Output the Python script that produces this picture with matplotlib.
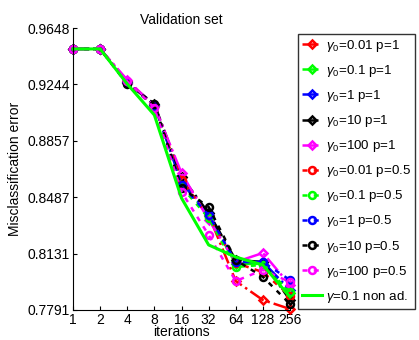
"""Validation set: misclassification error vs iterations for several gamma_0 / p settings."""

import matplotlib
matplotlib.use("Agg")
import matplotlib.pyplot as plt

plt.rcParams["font.family"] = ["Liberation Sans", "DejaVu Sans"]
plt.rcParams["mathtext.fontset"] = "custom"
plt.rcParams["mathtext.rm"] = "Liberation Sans"
plt.rcParams["mathtext.it"] = "Liberation Sans:italic"

# iterations (log2 axis)
iterations = [1, 2, 4, 8, 16, 32, 64, 128, 256]

# y ticks of the original figure (log spaced)
y_ticks = [0.7791, 0.8131, 0.8487, 0.8857, 0.9244, 0.9648]

# p = 1 runs (diamonds)
red_p1 = [0.9496, 0.9496, 0.9268, 0.9094, 0.8618, 0.8373, 0.7964, 0.7850, 0.7797]
green_p1 = [0.9496, 0.9496, 0.9261, 0.9101, 0.8585, 0.8367, 0.8068, 0.8068, 0.7892]
blue_p1 = [0.9496, 0.9496, 0.9261, 0.9101, 0.8578, 0.8386, 0.8080, 0.8080, 0.7910]
black_p1 = [0.9496, 0.9496, 0.9254, 0.9108, 0.8618, 0.8386, 0.8092, 0.8080, 0.7850]
magenta_p1 = [0.9496, 0.9496, 0.9276, 0.9094, 0.8644, 0.8342, 0.8080, 0.8135, 0.7940]

# p = 0.5 runs (circles)
red_p05 = [0.9496, 0.9496, 0.9261, 0.9088, 0.8598, 0.8360, 0.8074, 0.8018, 0.7875]
green_p05 = [0.9496, 0.9496, 0.9254, 0.9088, 0.8553, 0.8354, 0.8049, 0.8062, 0.7898]
blue_p05 = [0.9496, 0.9496, 0.9254, 0.9094, 0.8566, 0.8373, 0.8080, 0.8080, 0.7970]
black_p05 = [0.9496, 0.9496, 0.9247, 0.9108, 0.8547, 0.8424, 0.8092, 0.7989, 0.7827]
magenta_p05 = [0.9496, 0.9496, 0.9268, 0.9081, 0.8521, 0.8247, 0.7964, 0.8031, 0.7958]

# non adaptive step size
nonad = [0.9496, 0.9496, 0.9247, 0.9032, 0.8481, 0.8185, 0.8110, 0.8062, 0.7868]

gammas = ["0.01", "0.1", "1", "10", "100"]
colors = ["#ff0000", "#00ff00", "#0000ff", "#000000", "#ff00ff"]
p1_runs = [red_p1, green_p1, blue_p1, black_p1, magenta_p1]
p05_runs = [red_p05, green_p05, blue_p05, black_p05, magenta_p05]

fig = plt.figure(figsize=(4.19, 3.40), dpi=100)
ax = fig.add_axes([73 / 419, 30 / 340, 217 / 419, 282 / 340])

for g, c, vals in zip(gammas, colors, p1_runs):
    ax.plot(iterations, vals, linestyle="-.", color=c, linewidth=1.8,
            marker="D", markersize=4.5, markerfacecolor="none",
            markeredgewidth=1.8, clip_on=False,
            label=r"$\gamma_0$=" + g + " p=1")

for g, c, vals in zip(gammas, colors, p05_runs):
    ax.plot(iterations, vals, linestyle="--", color=c, linewidth=1.8,
            dashes=(2, 2.5), marker="o", markersize=5, markerfacecolor="none",
            markeredgewidth=1.8, clip_on=False,
            label=r"$\gamma_0$=" + g + " p=0.5")

ax.plot(iterations, nonad, color="#00ff00", linewidth=2.2, clip_on=False,
        label=r"$\gamma$=0.1 non ad.")

ax.set_xscale("log", base=2)
ax.set_yscale("log")
ax.set_xlim(1, 256)
ax.set_ylim(y_ticks[0], y_ticks[-1])
ax.set_xticks(iterations)
ax.set_xticklabels([str(i) for i in iterations])
ax.set_yticks(y_ticks)
ax.set_yticklabels([f"{t:.4f}" for t in y_ticks])
ax.minorticks_off()
ax.tick_params(direction="in", labelsize=10, length=3, pad=2)

ax.spines["top"].set_visible(False)
ax.spines["right"].set_visible(False)

ax.set_title("Validation set", fontsize=10, pad=3)
ax.set_xlabel("iterations", fontsize=10, labelpad=-1)
ax.set_ylabel("Misclassification error", fontsize=10, labelpad=4)

leg = fig.legend(loc="upper left", bbox_to_anchor=(298 / 419, 1 - 34 / 340),
                 fontsize=9.6, frameon=True, fancybox=False, edgecolor="black",
                 handlelength=1.5, handletextpad=0.3, labelspacing=0.68,
                 borderpad=0.3, borderaxespad=0)
leg.get_frame().set_linewidth(1.0)

fig.savefig("out.png", dpi=100)
